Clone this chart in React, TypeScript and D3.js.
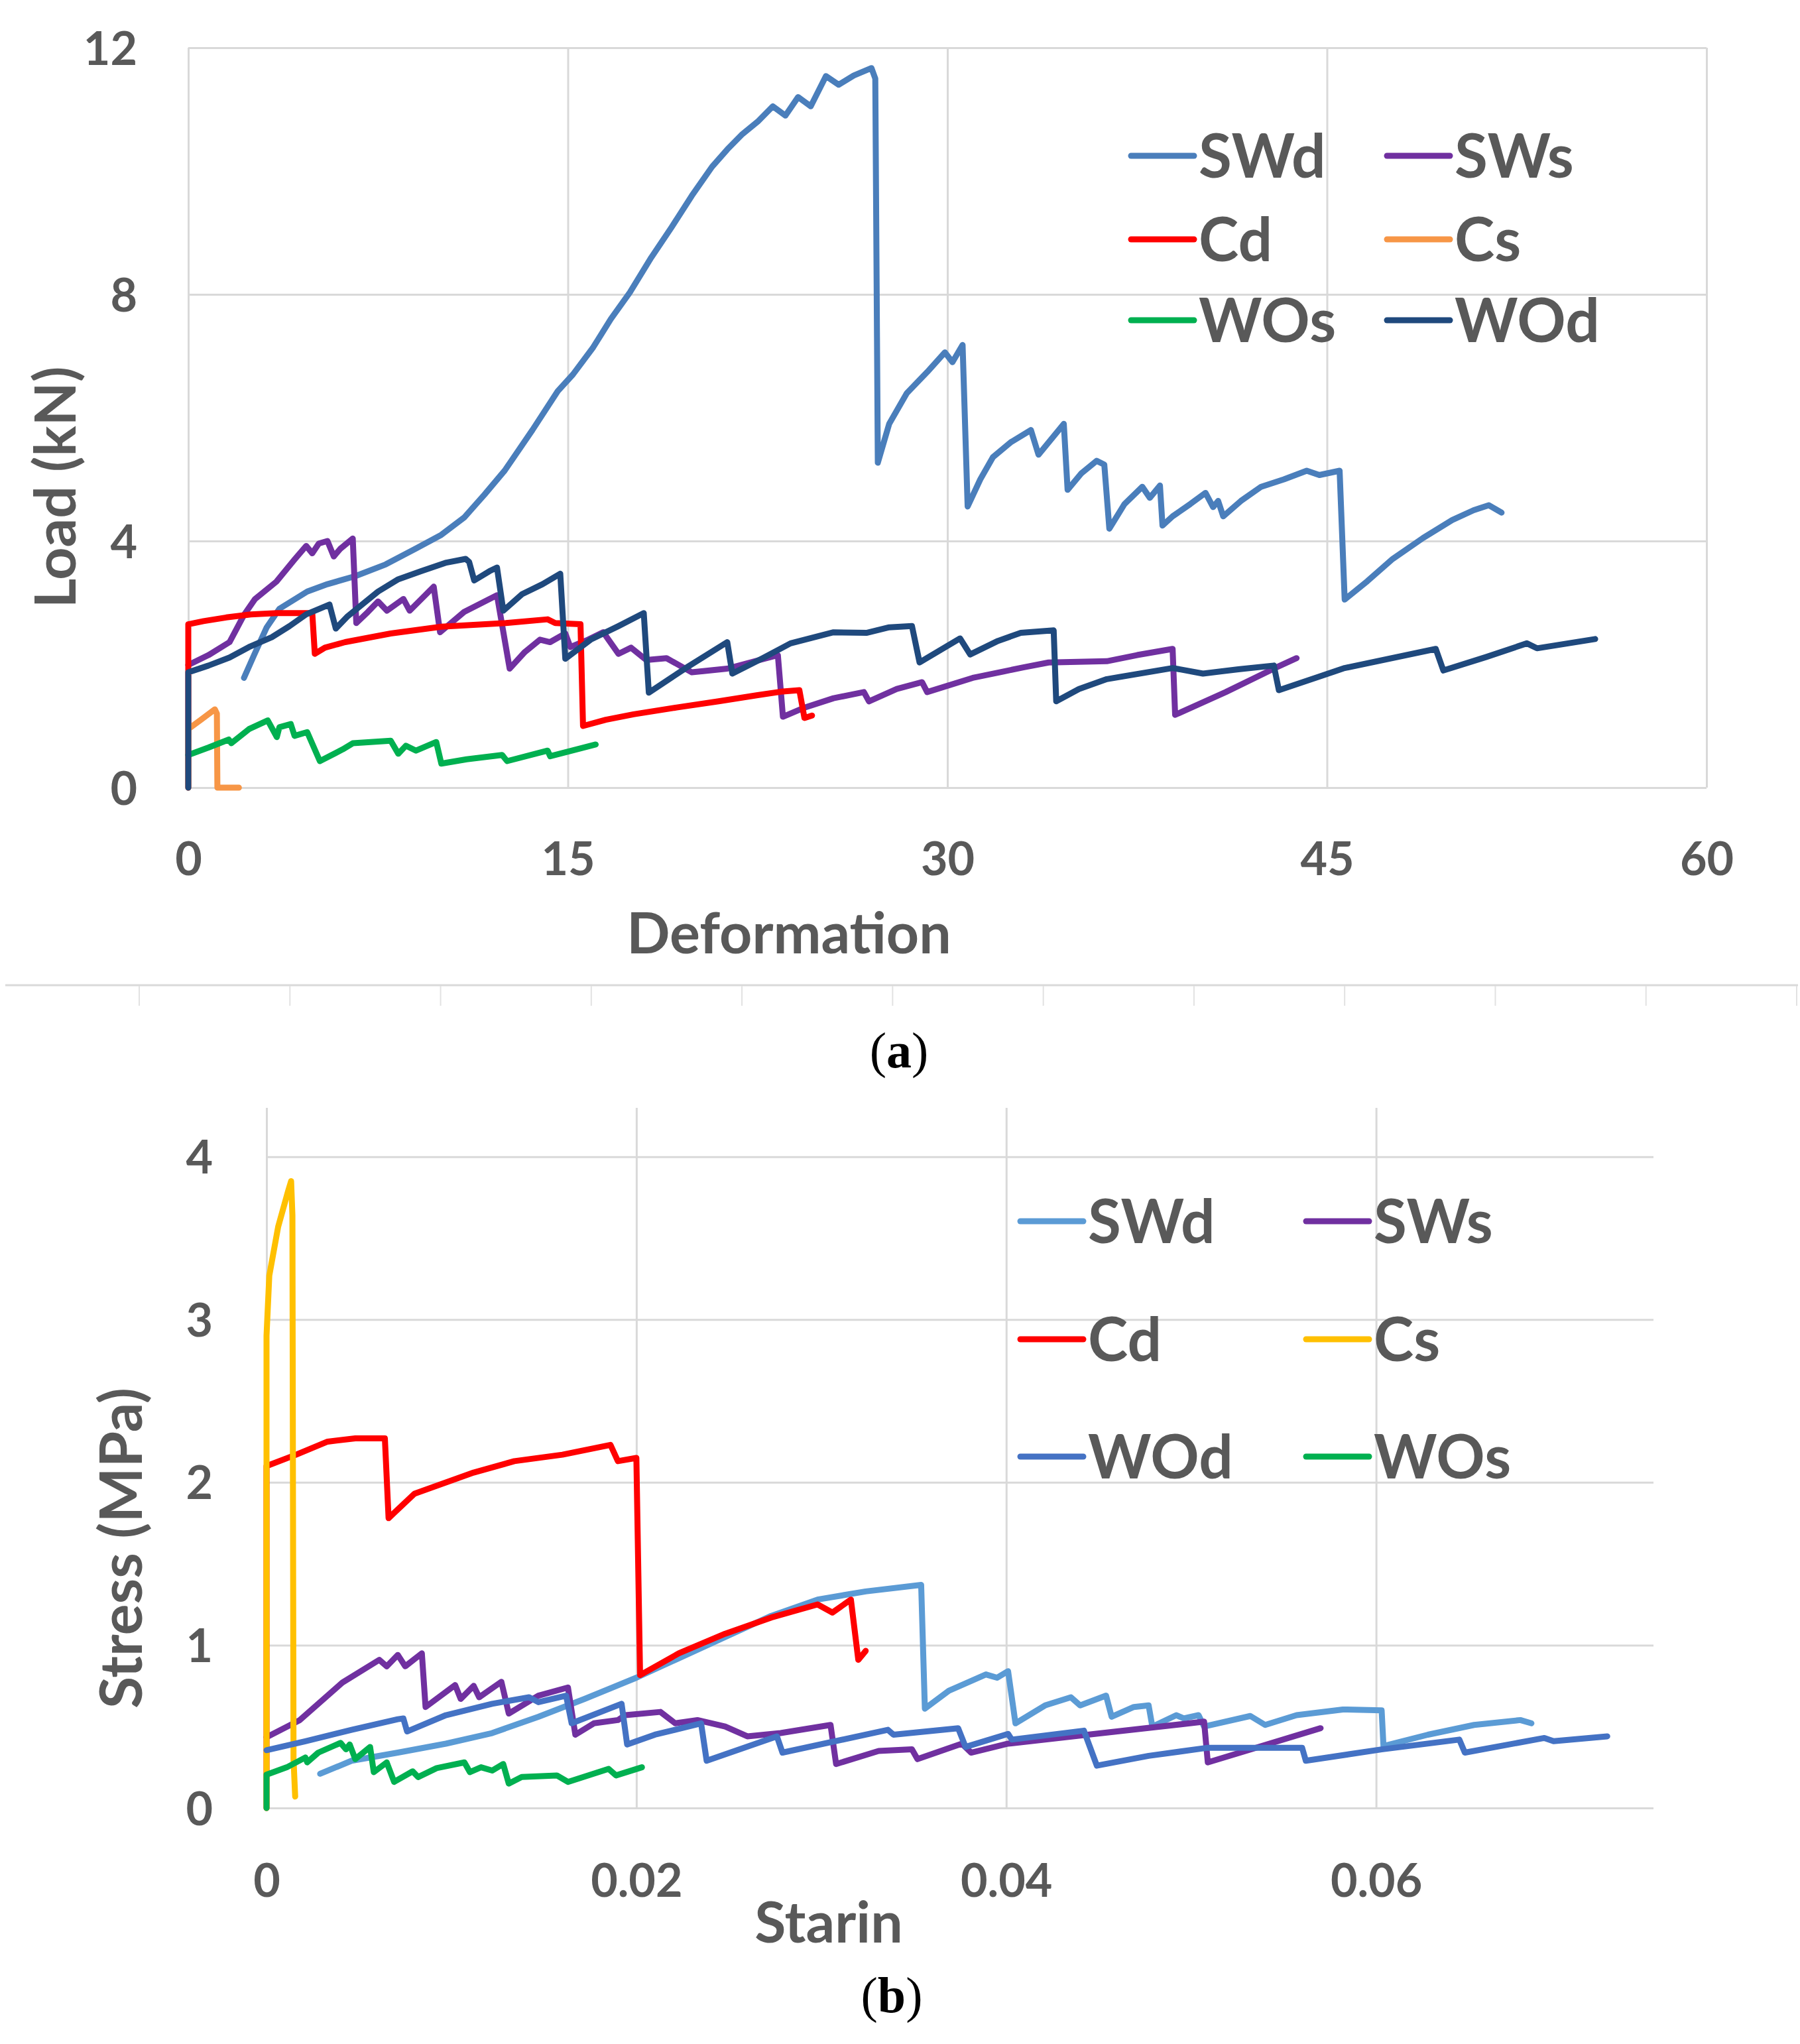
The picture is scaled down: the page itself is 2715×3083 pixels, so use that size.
import React, { useRef, useEffect } from 'react';
import * as d3 from 'd3';

type Pt = [number, number];

// ---- panel (a): load vs deformation ----
const loadTicksX = [0, 15, 30, 45, 60];
const loadTicksY = [0, 4, 8, 12];

const loadSWd: Pt[] = [
  [2.2, 1.78], [2.6, 2.15], [3.1, 2.6], [3.6, 2.9], [4.7, 3.18], [5.5, 3.3], [6.6, 3.43], [7.8, 3.62],
  [9.0, 3.88], [10.0, 4.1], [10.9, 4.38], [11.7, 4.75], [12.5, 5.14], [13.6, 5.8], [14.6, 6.43], [15.2, 6.7],
  [16.0, 7.14], [16.7, 7.6], [17.45, 8.03], [18.3, 8.6], [19.1, 9.09], [19.9, 9.6], [20.7, 10.07], [21.3, 10.35],
  [21.9, 10.6], [22.5, 10.8], [23.1, 11.05], [23.6, 10.9], [24.1, 11.2], [24.6, 11.05], [25.2, 11.54], [25.7, 11.4],
  [26.3, 11.55], [27.0, 11.67], [27.15, 11.5], [27.25, 5.27], [27.7, 5.9], [28.4, 6.4], [29.2, 6.74], [29.9, 7.06],
  [30.2, 6.9], [30.6, 7.18], [30.8, 4.56], [31.3, 5.0], [31.8, 5.36], [32.5, 5.6], [33.3, 5.8], [33.6, 5.4],
  [34.6, 5.9], [34.75, 4.83], [35.3, 5.1], [35.9, 5.3], [36.2, 5.24], [36.4, 4.2], [37.0, 4.6], [37.7, 4.88],
  [38.0, 4.7], [38.4, 4.9], [38.5, 4.25], [38.9, 4.4], [39.6, 4.6], [40.2, 4.78], [40.5, 4.55], [40.7, 4.65],
  [40.9, 4.4], [41.6, 4.65], [42.4, 4.88], [43.3, 5.0], [44.2, 5.14], [44.7, 5.07], [45.5, 5.14], [45.7, 3.05],
  [46.6, 3.35], [47.6, 3.71], [48.8, 4.05], [49.95, 4.34], [50.8, 4.5], [51.4, 4.58], [51.9, 4.46],
];

const loadSWs: Pt[] = [
  [0, 1.99], [0.8, 2.15], [1.63, 2.36], [2.2, 2.8], [2.64, 3.06], [3.48, 3.34], [4.2, 3.7], [4.66, 3.92],
  [4.9, 3.8], [5.16, 3.96], [5.5, 4.0], [5.75, 3.75], [6.0, 3.87], [6.5, 4.04], [6.64, 2.67], [7.1, 2.85],
  [7.5, 3.02], [7.85, 2.87], [8.5, 3.06], [8.75, 2.87], [9.7, 3.26], [9.95, 2.52], [10.9, 2.85], [12.2, 3.12],
  [12.7, 1.93], [13.3, 2.2], [13.9, 2.4], [14.3, 2.36], [14.9, 2.5], [15.1, 2.28], [15.8, 2.4], [16.4, 2.52],
  [17.0, 2.17], [17.5, 2.27], [18.1, 2.07], [18.9, 2.1], [19.9, 1.87], [21.3, 1.93], [23.3, 2.15], [23.5, 1.15],
  [24.3, 1.29], [25.5, 1.45], [26.7, 1.55], [26.9, 1.4], [28.0, 1.6], [29.0, 1.71], [29.2, 1.55], [31.0, 1.78],
  [33.0, 1.95], [34.0, 2.03], [36.3, 2.05], [37.5, 2.15], [38.9, 2.25], [39.0, 1.18], [41.0, 1.55], [43.0, 1.95],
  [43.8, 2.1],
];

const loadCd: Pt[] = [
  [0, 0], [0, 2.65], [0.6, 2.7], [1.5, 2.76], [2.47, 2.81], [3.5, 2.83], [4.9, 2.83], [5.0, 2.17],
  [5.4, 2.27], [6.2, 2.36], [8.0, 2.5], [10.0, 2.61], [12.55, 2.67], [14.2, 2.73], [14.5, 2.67], [15.5, 2.65],
  [15.6, 1.0], [16.5, 1.1], [17.6, 1.19], [19.3, 1.3], [20.96, 1.4], [22.5, 1.5], [23.5, 1.56], [24.15, 1.58],
  [24.35, 1.13], [24.65, 1.17],
];

const loadCs: Pt[] = [
  [0, 0], [0, 0.95], [0.5, 1.1], [1.05, 1.27], [1.13, 1.2], [1.15, 0], [2.0, 0],
];

const loadWOs: Pt[] = [
  [0, 0.53], [0.8, 0.65], [1.6, 0.78], [1.7, 0.72], [2.4, 0.95], [3.14, 1.09], [3.5, 0.82], [3.6, 0.98],
  [4.05, 1.03], [4.2, 0.84], [4.7, 0.9], [5.2, 0.43], [6.1, 0.62], [6.5, 0.72], [8.0, 0.76], [8.3, 0.55],
  [8.6, 0.68], [9.0, 0.6], [9.8, 0.74], [10.0, 0.39], [11.0, 0.46], [12.4, 0.53], [12.6, 0.43], [14.2, 0.6],
  [14.3, 0.51], [16.1, 0.7],
];

const loadWOd: Pt[] = [
  [0, 0], [0, 1.87], [0.8, 1.98], [1.63, 2.11], [2.4, 2.28], [3.3, 2.44], [4.0, 2.62], [4.66, 2.81],
  [5.58, 2.97], [5.83, 2.58], [6.3, 2.78], [7.5, 3.18], [8.3, 3.38], [9.2, 3.51], [10.2, 3.65], [10.96, 3.71],
  [11.1, 3.66], [11.3, 3.36], [11.9, 3.51], [12.2, 3.57], [12.45, 2.87], [13.2, 3.14], [14.0, 3.3], [14.7, 3.47],
  [14.9, 2.09], [15.9, 2.4], [17.0, 2.62], [18.0, 2.83], [18.2, 1.54], [19.7, 1.95], [21.3, 2.36], [21.5, 1.85],
  [22.7, 2.1], [23.8, 2.34], [25.5, 2.52], [26.8, 2.51], [27.7, 2.6], [28.6, 2.62], [28.9, 2.03], [30.5, 2.42],
  [30.9, 2.16], [32.0, 2.38], [32.9, 2.51], [34.2, 2.55], [34.3, 1.4], [35.2, 1.6], [36.3, 1.76], [38.9, 1.94],
  [40.1, 1.85], [41.5, 1.92], [42.9, 1.98], [43.1, 1.58], [45.7, 1.94], [49.3, 2.25], [49.6, 1.9], [51.3, 2.12],
  [52.9, 2.34], [53.3, 2.26], [55.6, 2.41],
];

// ---- panel (b): stress vs strain ----
const stressTicksX = [0, 0.02, 0.04, 0.06];
const stressTickLabelsX = ['0', '0.02', '0.04', '0.06'];
const stressTicksY = [0, 1, 2, 3, 4];

const stressSWd: Pt[] = [
  [0.0029, 0.21], [0.0046, 0.29], [0.0071, 0.34], [0.0097, 0.395], [0.0122, 0.46], [0.0147, 0.56], [0.0172, 0.67],
  [0.02, 0.8], [0.0223, 0.92], [0.0248, 1.05], [0.0273, 1.18], [0.0298, 1.28], [0.0324, 1.33], [0.0354, 1.37],
  [0.0356, 0.61], [0.0369, 0.72], [0.0389, 0.82], [0.0395, 0.8], [0.0401, 0.84], [0.0405, 0.52], [0.0421, 0.63],
  [0.0435, 0.68], [0.044, 0.63], [0.0454, 0.69], [0.0457, 0.56], [0.0469, 0.62], [0.0477, 0.63], [0.0479, 0.5],
  [0.0492, 0.57], [0.0496, 0.55], [0.0504, 0.57], [0.0507, 0.5], [0.0532, 0.565], [0.054, 0.51], [0.0557, 0.57],
  [0.0582, 0.605], [0.0603, 0.6], [0.0604, 0.38], [0.0628, 0.45], [0.0653, 0.51], [0.0678, 0.54], [0.0684, 0.52],
];

const stressSWs: Pt[] = [
  [0, 0.435], [0.0018, 0.54], [0.0041, 0.77], [0.0061, 0.91], [0.0065, 0.87], [0.0071, 0.94], [0.0075, 0.87],
  [0.0084, 0.95], [0.0086, 0.62], [0.0102, 0.755], [0.0105, 0.67], [0.0112, 0.75], [0.0115, 0.68], [0.0127, 0.775],
  [0.0131, 0.58], [0.0147, 0.69], [0.0163, 0.74], [0.0167, 0.45], [0.0177, 0.52], [0.019, 0.54], [0.0194, 0.57],
  [0.0213, 0.59], [0.0221, 0.52], [0.0233, 0.54], [0.0248, 0.5], [0.026, 0.44], [0.0278, 0.46], [0.0305, 0.51],
  [0.0308, 0.27], [0.0331, 0.35], [0.0349, 0.36], [0.0352, 0.3], [0.0376, 0.395], [0.0381, 0.34], [0.0401, 0.395],
  [0.0444, 0.45], [0.0507, 0.53], [0.0509, 0.28], [0.057, 0.49],
];

const stressCd: Pt[] = [
  [0, 0], [0, 2.1], [0.0016, 2.17], [0.0033, 2.25], [0.0048, 2.27], [0.0064, 2.27], [0.0066, 1.78], [0.008, 1.93],
  [0.0112, 2.06], [0.0134, 2.13], [0.016, 2.17], [0.0186, 2.23], [0.019, 2.13], [0.02, 2.15], [0.0202, 0.816],
  [0.0223, 0.95], [0.0248, 1.07], [0.0273, 1.17], [0.0298, 1.25], [0.0306, 1.2], [0.0316, 1.28], [0.032, 0.91],
  [0.0324, 0.965],
];

const stressCs: Pt[] = [
  [0, 0], [0, 2.9], [0.00015, 3.27], [0.00063, 3.57], [0.00117, 3.79], [0.00133, 3.85], [0.0014, 3.64],
  [0.00146, 0.3], [0.00155, 0.07],
];

const stressWOd: Pt[] = [
  [0, 0.355], [0.0021, 0.41], [0.0046, 0.48], [0.0071, 0.545], [0.0074, 0.55], [0.0076, 0.47], [0.0097, 0.57],
  [0.0122, 0.64], [0.0142, 0.68], [0.0147, 0.65], [0.0162, 0.69], [0.0165, 0.52], [0.0192, 0.64], [0.0195, 0.39],
  [0.021, 0.45], [0.0235, 0.52], [0.0238, 0.29], [0.0276, 0.44], [0.0279, 0.34], [0.0336, 0.48], [0.0339, 0.45],
  [0.0374, 0.49], [0.0378, 0.375], [0.0401, 0.455], [0.0403, 0.42], [0.0442, 0.475], [0.0449, 0.26], [0.0477, 0.32],
  [0.0509, 0.37], [0.056, 0.37], [0.0562, 0.29], [0.0603, 0.36], [0.0645, 0.42], [0.0648, 0.34], [0.0691, 0.43],
  [0.0696, 0.41], [0.0725, 0.44],
];

const stressWOs: Pt[] = [
  [0, 0], [0, 0.205], [0.0011, 0.25], [0.0021, 0.31], [0.0022, 0.28], [0.0028, 0.34], [0.004, 0.4], [0.0043, 0.36],
  [0.0045, 0.39], [0.0048, 0.3], [0.0056, 0.375], [0.0058, 0.22], [0.0065, 0.28], [0.0069, 0.16], [0.0079, 0.225],
  [0.0082, 0.19], [0.0092, 0.245], [0.0107, 0.28], [0.011, 0.22], [0.0116, 0.25], [0.0122, 0.23], [0.0128, 0.27],
  [0.0131, 0.15], [0.0138, 0.19], [0.0157, 0.2], [0.0163, 0.16], [0.0185, 0.24], [0.0189, 0.2], [0.0203, 0.25],
];

const W = 2715;
const H = 3083;
const FONT = 'Lato, "Open Sans", sans-serif';
const TEXT = '#595959';
const GRID = '#d9d9d9';

interface Series { name: string; data: Pt[]; color: string }

interface Panel {
  series: Series[];
  xDomain: [number, number];
  yDomain: [number, number];
  left: number; right: number; top: number; bottom: number;
  xTicks: number[]; xTickLabels: string[]; yTicks: number[];
  xLabelBaseline: number; yLabelRight: number;
  xTitle: string; xTitleX: number; xTitleBaseline: number;
  yTitle: string; yTitleY: number; yTitleBaseline: number; yTitleSize: number;
  legendCols: number[]; legendRows: number[]; legendSize: number;
}

const panels: Panel[] = [
  {
    series: [
      { name: 'SWd', data: loadSWd, color: '#4a7ebb' },
      { name: 'SWs', data: loadSWs, color: '#7030a0' },
      { name: 'Cd', data: loadCd, color: '#ff0000' },
      { name: 'Cs', data: loadCs, color: '#f79646' },
      { name: 'WOs', data: loadWOs, color: '#00b050' },
      { name: 'WOd', data: loadWOd, color: '#1f497d' },
    ],
    xDomain: [0, 60], yDomain: [0, 12],
    left: 284, right: 2574, top: 72, bottom: 1188,
    xTicks: loadTicksX, xTickLabels: loadTicksX.map(String), yTicks: loadTicksY,
    xLabelBaseline: 1320, yLabelRight: 207,
    xTitle: 'Deformation', xTitleX: 1190, xTitleBaseline: 1438,
    yTitle: 'Load (kN)', yTitleY: 735, yTitleBaseline: 114, yTitleSize: 86,
    legendCols: [1706, 2092], legendRows: [235, 361, 483], legendSize: 91,
  },
  {
    series: [
      { name: 'SWd', data: stressSWd, color: '#5b9bd5' },
      { name: 'SWs', data: stressSWs, color: '#7030a0' },
      { name: 'Cd', data: stressCd, color: '#ff0000' },
      { name: 'Cs', data: stressCs, color: '#ffc000' },
      { name: 'WOd', data: stressWOd, color: '#4472c4' },
      { name: 'WOs', data: stressWOs, color: '#00b050' },
    ],
    xDomain: [0, 0.075], yDomain: [0, 4.3],
    left: 402, right: 2494, top: 1671, bottom: 2727,
    xTicks: stressTicksX, xTickLabels: stressTickLabelsX, yTicks: stressTicksY,
    xLabelBaseline: 2861, yLabelRight: 321,
    xTitle: 'Starin', xTitleX: 1250, xTitleBaseline: 2930,
    yTitle: 'Stress (MPa)', yTitleY: 2335, yTitleBaseline: 214, yTitleSize: 88,
    legendCols: [1539, 1970], legendRows: [1842, 2020, 2197], legendSize: 91,
  },
];

const drawPanel = (svg: d3.Selection<SVGSVGElement, unknown, null, undefined>, p: Panel) => {
  const x = d3.scaleLinear().domain(p.xDomain).range([p.left, p.right]);
  const y = d3.scaleLinear().domain(p.yDomain).range([p.bottom, p.top]);
  const g = svg.append('g');

  // Horizontal gridlines + y labels
  g.append('g')
    .attr('transform', `translate(${p.left},0)`)
    .call(d3.axisLeft(y).tickValues(p.yTicks).tickSize(-(p.right - p.left)).tickFormat((d) => String(d)))
    .call((a) => a.select('.domain').remove())
    .call((a) => a.selectAll('.tick line').attr('stroke', GRID).attr('stroke-width', 3))
    .call((a) =>
      a.selectAll('.tick text')
        .attr('x', p.yLabelRight - p.left)
        .attr('dy', null)
        .attr('y', 25)
        .attr('fill', TEXT)
        .style('font-family', FONT)
        .style('font-size', '70px')
        .style('font-weight', 700),
    );

  // Vertical gridlines + x labels
  g.append('g')
    .attr('transform', `translate(0,${p.bottom})`)
    .call(
      d3.axisBottom(x)
        .tickValues(p.xTicks)
        .tickSize(-(p.bottom - p.top))
        .tickFormat((_, i) => p.xTickLabels[i]),
    )
    .call((a) => a.select('.domain').remove())
    .call((a) => a.selectAll('.tick line').attr('stroke', GRID).attr('stroke-width', 3))
    .call((a) =>
      a.selectAll('.tick text')
        .attr('dy', null)
        .attr('y', p.xLabelBaseline - p.bottom)
        .attr('fill', TEXT)
        .style('font-family', FONT)
        .style('font-size', '70px')
        .style('font-weight', 700),
    );

  // Axis titles
  g.append('text')
    .attr('x', p.xTitleX)
    .attr('y', p.xTitleBaseline)
    .attr('text-anchor', 'middle')
    .attr('fill', TEXT)
    .style('font-family', FONT)
    .style('font-size', '86px')
    .style('font-weight', 700)
    .text(p.xTitle);

  g.append('text')
    .attr('transform', `translate(${p.yTitleBaseline},${p.yTitleY}) rotate(-90)`)
    .attr('text-anchor', 'middle')
    .attr('fill', TEXT)
    .style('font-family', FONT)
    .style('font-size', `${p.yTitleSize}px`)
    .style('font-weight', 700)
    .text(p.yTitle);

  // Series lines
  const line = d3.line<Pt>().x((d) => x(d[0])).y((d) => y(d[1]));
  p.series.forEach((s) => {
    g.append('path')
      .attr('d', line(s.data))
      .attr('fill', 'none')
      .attr('stroke', s.color)
      .attr('stroke-width', 9)
      .attr('stroke-linejoin', 'round')
      .attr('stroke-linecap', 'round');
  });

  // Legend, two columns, filled row by row
  const leg = g.append('g');
  p.series.forEach((s, i) => {
    const lx = p.legendCols[i % 2];
    const ly = p.legendRows[Math.floor(i / 2)];
    leg.append('line')
      .attr('x1', lx).attr('x2', lx + 95)
      .attr('y1', ly).attr('y2', ly)
      .attr('stroke', s.color)
      .attr('stroke-width', 9)
      .attr('stroke-linecap', 'round');
    leg.append('text')
      .attr('x', lx + 102)
      .attr('y', ly + 33)
      .attr('fill', TEXT)
      .style('font-family', FONT)
      .style('font-size', `${p.legendSize}px`)
      .style('font-weight', 700)
      .text(s.name);
  });
};

const App: React.FC = () => {
  const svgRef = useRef<SVGSVGElement>(null);

  useEffect(() => {
    if (!svgRef.current) return;
    const svg = d3.select(svgRef.current);
    svg.selectAll('*').remove();

    svg.append('rect').attr('width', W).attr('height', H).attr('fill', '#fff');

    panels.forEach((p) => drawPanel(svg, p));

    // Separator rule between the two panels
    const sep = d3.scaleLinear().domain([0, 11]).range([210, 2710]);
    svg.append('line')
      .attr('x1', 8).attr('x2', 2712)
      .attr('y1', 1486).attr('y2', 1486)
      .attr('stroke', GRID)
      .attr('stroke-width', 3);
    svg.append('g')
      .selectAll('line')
      .data(d3.range(12))
      .enter()
      .append('line')
      .attr('x1', (d) => sep(d)).attr('x2', (d) => sep(d))
      .attr('y1', 1487).attr('y2', 1517)
      .attr('stroke', '#e2e2e2')
      .attr('stroke-width', 2);

    // Panel captions
    const caption = (letter: string, cx: number, baseline: number) => {
      const t = svg.append('text')
        .attr('x', cx)
        .attr('y', baseline)
        .attr('text-anchor', 'middle')
        .attr('fill', '#000')
        .style('font-family', '"Liberation Serif", "DejaVu Serif", serif')
        .style('font-size', '76px');
      t.append('tspan').text('(');
      t.append('tspan').style('font-weight', 700).text(letter);
      t.append('tspan').text(')');
    };
    caption('a', 1356, 1610);
    caption('b', 1345, 3035);
  }, []);

  return (
    <svg
      ref={svgRef}
      width={W}
      height={H}
      style={{ position: 'absolute', left: 0, top: 0, display: 'block' }}
    />
  );
};

export default App;
